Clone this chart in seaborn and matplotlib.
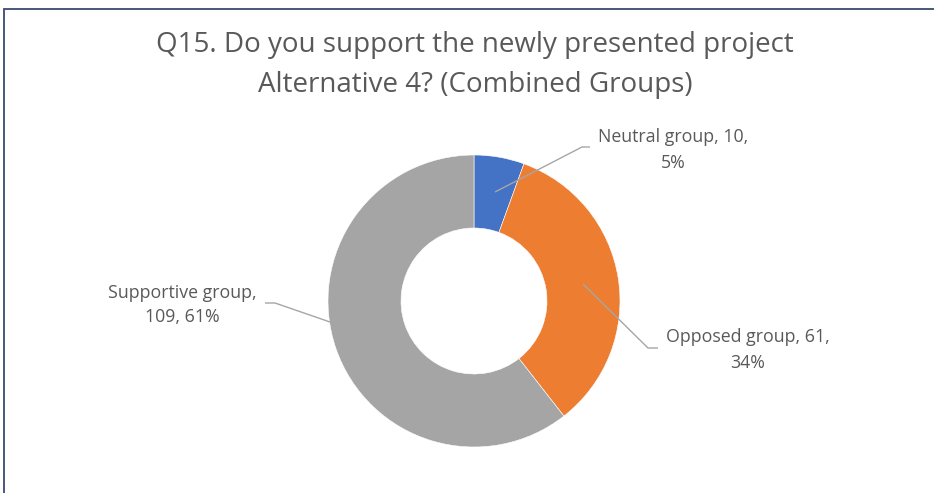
import matplotlib
matplotlib.use("Agg")
import matplotlib.pyplot as plt
import seaborn as sns
from matplotlib.patches import Rectangle

categories = ["Neutral group", "Opposed group", "Supportive group"]
counts = [10, 61, 109]
percents = [5, 34, 61]
colors = ["#4472C4", "#ED7D31", "#A5A5A5"]

sns.set_theme(style="white")
plt.rcParams['font.family'] = ['Open Sans', 'DejaVu Sans']

W, H = 934, 493
fig = plt.figure(figsize=(W / 100, H / 100), dpi=100)
fig.patch.set_facecolor("white")
ax = fig.add_axes([0, 0, 1, 1])

# pixel -> data mapping (radius 1 == 146 px, centre at (474, 301))
R = 146.0
CX, CY = 474.0, 301.0
def px(x, y):
    return ((x - CX) / R, (CY - y) / R)

ax.pie(counts, colors=colors, startangle=90, counterclock=False,
       wedgeprops=dict(width=0.5, edgecolor="white", linewidth=0.4))
ax.set_aspect("auto")
ax.set_xlim(-CX / R, (W - CX) / R)
ax.set_ylim(-(H - CY) / R, CY / R)
ax.axis("off")

text_color = "#595959"
line_color = "#A6A6A6"

labels = [f"{c}, {n},\n{p}%" for c, n, p in zip(categories, counts, percents)]
labels[2] = f"{categories[2]},\n{counts[2]}, {percents[2]}%"

label_pos = [px(673, 150), px(748, 350), px(182, 305)]
leaders = [
    [(495, 192), (582, 147), (590, 147)],
    [(583, 284), (648, 348), (658, 348)],
    [(330, 322), (275, 303), (265, 303)],
]
for lab, pos, pts in zip(labels, label_pos, leaders):
    ax.text(pos[0], pos[1], lab, ha="center", va="center", fontsize=12.8,
            color=text_color, linespacing=1.5)
    d = [px(*p) for p in pts]
    ax.plot([p[0] for p in d], [p[1] for p in d], color=line_color, lw=1.0,
            solid_capstyle="butt")

fig.text(475 / W, 1 - 65 / H,
         "Q15. Do you support the newly presented project\nAlternative 4? (Combined Groups)",
         ha="center", va="center", fontsize=20, color=text_color, linespacing=1.58)

# frame border (left and top visible)
fig.add_artist(Rectangle((3.5 / W, -0.1), 1.2, 1 - 9.5 / H + 0.1,
                         transform=fig.transFigure, fill=False,
                         edgecolor="#3B4A74", linewidth=1.3))

fig.savefig("out.png", dpi=100, facecolor="white")
